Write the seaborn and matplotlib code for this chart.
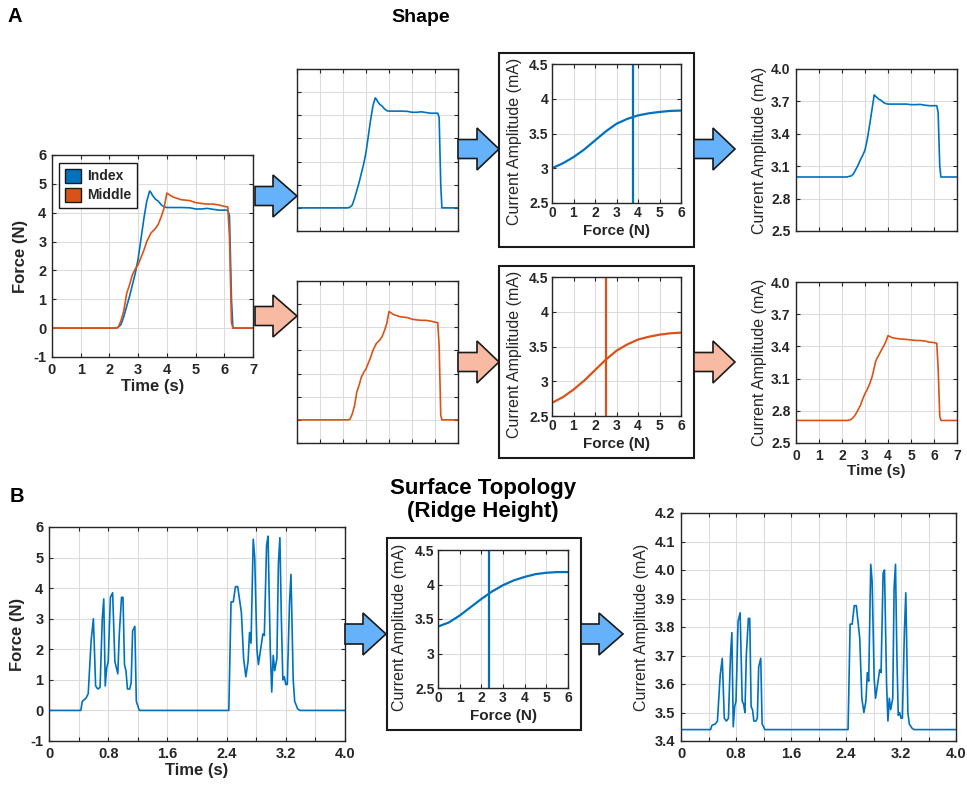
import matplotlib
matplotlib.use("Agg")
import matplotlib.pyplot as plt
from matplotlib.patches import Patch, Polygon, Rectangle
from matplotlib.ticker import FuncFormatter
import seaborn as sns

# --- data ---
# panel A: shape, force recorded on index and middle finger
t_shape = [0, 2.2, 2.3, 2.4, 2.5, 2.6, 2.7, 2.8, 2.9, 3.0, 3.1, 3.2, 3.3, 3.4, 3.45,
           3.5, 3.6, 3.7, 3.8, 3.9, 4.0, 4.2, 4.5, 4.8, 5.0, 5.2, 5.4, 5.6, 5.8, 6.0,
           6.12, 6.18, 6.25, 6.3, 7.0]
force_index = [0, 0, 0.03, 0.12, 0.4, 0.75, 1.1, 1.5, 1.9, 2.4, 3.1, 3.8, 4.4, 4.75, 4.7,
               4.6, 4.47, 4.4, 4.28, 4.2, 4.18, 4.18, 4.18, 4.17, 4.13, 4.13, 4.15, 4.12, 4.09, 4.09,
               4.09, 3.9, 1.0, 0, 0]
force_middle = [0, 0, 0.02, 0.25, 0.6, 1.2, 1.5, 1.85, 2.05, 2.2, 2.45, 2.7, 3.0, 3.2, 3.3,
                3.35, 3.45, 3.6, 3.85, 4.15, 4.68, 4.55, 4.45, 4.42, 4.35, 4.32, 4.3, 4.3, 4.27, 4.22,
                4.2, 3.2, 0.2, 0, 0]
current_index = [3.0, 3.0, 3.005, 3.01, 3.03, 3.07, 3.11, 3.16, 3.2, 3.25, 3.35, 3.48, 3.62, 3.76, 3.75,
                 3.74, 3.72, 3.71, 3.69, 3.68, 3.675, 3.675, 3.675, 3.675, 3.67, 3.67, 3.672, 3.665, 3.66, 3.66,
                 3.66, 3.6, 3.1, 3.0, 3.0]
current_middle = [2.71, 2.71, 2.712, 2.72, 2.74, 2.77, 2.81, 2.85, 2.91, 2.96, 3.0, 3.05, 3.11, 3.2, 3.25,
                  3.28, 3.32, 3.36, 3.4, 3.44, 3.5, 3.48, 3.47, 3.465, 3.46, 3.455, 3.455, 3.45, 3.44, 3.435,
                  3.43, 3.2, 2.75, 2.71, 2.71]

# force -> current transfer functions
tf_force = [0, 0.5, 1, 1.5, 2, 2.5, 3, 3.5, 4, 4.5, 5, 5.5, 6]
tf_index = [3.00, 3.07, 3.16, 3.27, 3.40, 3.53, 3.64, 3.71, 3.76, 3.79, 3.81, 3.825, 3.83]
tf_middle = [2.69, 2.77, 2.88, 3.01, 3.16, 3.31, 3.44, 3.53, 3.60, 3.64, 3.67, 3.69, 3.70]
tf_ridge = [3.39, 3.45, 3.55, 3.67, 3.79, 3.90, 3.99, 4.06, 4.11, 4.15, 4.17, 4.18, 4.18]
marker_force = {"index": 3.75, "middle": 2.5, "ridge": 2.35}

# panel B: surface topology (ridge height)
t_ridge = [0, 0.43, 0.45, 0.5, 0.53, 0.57, 0.6, 0.63, 0.66, 0.69, 0.72, 0.74,
           0.76, 0.78, 0.80, 0.83, 0.86, 0.89, 0.91, 0.93, 0.95, 0.98, 1.0, 1.02,
           1.04, 1.06, 1.09, 1.11, 1.13, 1.16, 1.18, 1.22, 2.43, 2.46, 2.49, 2.52,
           2.55, 2.60, 2.63, 2.66, 2.69, 2.71, 2.73, 2.76, 2.78, 2.81, 2.83, 2.86,
           2.89, 2.91, 2.94, 2.96, 2.99, 3.01, 3.03, 3.05, 3.08, 3.10, 3.12, 3.14,
           3.16, 3.18, 3.20, 3.22, 3.25, 3.27, 3.30, 3.32, 3.36, 3.39, 4.0]
force_ridge = [0, 0, 0.3, 0.4, 0.55, 2.3, 3.0, 0.8, 0.7, 0.75, 3.0, 3.65,
               0.8, 1.4, 1.6, 3.7, 3.85, 1.6, 1.4, 1.2, 2.5, 3.7, 3.7, 1.5,
               1.3, 0.7, 0.7, 0.9, 2.6, 2.75, 0.3, 0, 0, 3.55, 3.55, 4.05,
               4.05, 3.2, 1.7, 1.1, 1.6, 2.55, 2.2, 5.6, 5.0, 2.0, 1.5, 2.0,
               2.5, 2.45, 5.4, 5.7, 2.0, 0.6, 1.8, 1.3, 1.7, 4.8, 5.65, 3.0,
               1.0, 1.1, 0.85, 0.85, 3.5, 4.45, 1.0, 0.3, 0.05, 0, 0]
current_ridge = [3.44, 3.44, 3.455, 3.46, 3.47, 3.63, 3.69, 3.48, 3.47, 3.48, 3.70, 3.78,
                 3.45, 3.52, 3.54, 3.82, 3.85, 3.54, 3.53, 3.50, 3.70, 3.83, 3.83, 3.52,
                 3.51, 3.47, 3.47, 3.48, 3.66, 3.69, 3.46, 3.44, 3.44, 3.81, 3.81, 3.875,
                 3.875, 3.76, 3.55, 3.50, 3.54, 3.64, 3.61, 4.02, 3.96, 3.62, 3.55, 3.60,
                 3.65, 3.64, 3.99, 4.00, 3.60, 3.47, 3.55, 3.51, 3.55, 3.94, 4.02, 3.70,
                 3.49, 3.50, 3.48, 3.48, 3.79, 3.92, 3.50, 3.46, 3.445, 3.44, 3.44]

BLUE = "#0072BD"
ORANGE = "#D95319"
BLUE_ARROW = "#66b2fa"
ORANGE_ARROW = "#f8baa3"
INK = "#262626"

sns.set_theme(style="whitegrid", rc={
    "axes.edgecolor": INK, "axes.linewidth": 1.0, "grid.color": "#dcdcdc",
    "grid.linewidth": 0.8, "xtick.direction": "in", "ytick.direction": "in",
    "xtick.bottom": True, "ytick.left": True, "xtick.top": True, "ytick.right": True,
    "xtick.major.size": 3, "ytick.major.size": 3, "xtick.major.width": 0.8,
    "ytick.major.width": 0.8, "xtick.major.pad": 4, "ytick.major.pad": 4,
    "xtick.color": INK, "ytick.color": INK, "text.color": INK, "axes.labelcolor": INK,
    "axes.unicode_minus": False,
})
plt.rcParams["font.family"] = ["Liberation Sans", "DejaVu Sans"]

W, H = 967, 788
fig = plt.figure(figsize=(W / 100, H / 100), dpi=100)


def add_ax(l, t, r, b):
    return fig.add_axes([l / W, 1 - b / H, (r - l) / W, (b - t) / H])


def style_ticks(ax, size=10):
    for lab in ax.get_xticklabels() + ax.get_yticklabels():
        lab.set_fontweight("bold")
        lab.set_fontsize(size)


def trace(ax, x, y, color, lw=1.2):
    sns.lineplot(x=x, y=y, ax=ax, color=color, linewidth=lw, sort=False, estimator=None)
    ax.set_xlabel("")
    ax.set_ylabel("")


def force_axes(ax, labels=True):
    ax.set_xlim(0, 7)
    ax.set_ylim(-1, 6)
    ax.set_xticks(range(0, 8))
    ax.set_yticks(range(-1, 7))
    if not labels:
        ax.set_xticklabels([])
        ax.set_yticklabels([])


def tf_axes(ax):
    ax.set_xlim(0, 6)
    ax.set_ylim(2.5, 4.5)
    ax.set_xticks(range(0, 7))
    ax.set_yticks([2.5, 3, 3.5, 4, 4.5])
    ax.yaxis.set_major_formatter(FuncFormatter(lambda v, p: "%g" % v))
    ax.tick_params(pad=2.5)
    ax.set_xlabel("Force (N)", fontsize=11, fontweight="bold", labelpad=2.5)
    ax.set_ylabel("Current Amplitude (mA)", fontsize=11.5)
    ax.yaxis.set_label_coords(-0.235, 0.44)
    style_ticks(ax, 10)


def current_axes(ax, xlabels):
    ax.set_xlim(0, 7)
    ax.set_ylim(2.5, 4.0)
    ax.set_xticks(range(0, 8))
    ax.set_yticks([2.5, 2.8, 3.1, 3.4, 3.7, 4.0])
    ax.yaxis.set_major_formatter(FuncFormatter(lambda v, p: "%.1f" % v))
    ax.set_ylabel("Current Amplitude (mA)", fontsize=11.5, labelpad=3)
    if xlabels:
        ax.set_xlabel("Time (s)", fontsize=11, fontweight="bold", labelpad=1)
    else:
        ax.set_xticklabels([])
    style_ticks(ax, 10)


def ridge_time_axis(ax):
    ticks = [0.4 * i for i in range(11)]
    ax.set_xlim(0, 4)
    ax.set_xticks(ticks)
    labs = ["0" if i == 0 else ("%.1f" % v if i % 2 == 0 else "") for i, v in enumerate(ticks)]
    ax.set_xticklabels(labs)


# ---- panel A ----
ax = add_ax(52, 155, 253, 357)
trace(ax, t_shape, force_index, BLUE)
trace(ax, t_shape, force_middle, ORANGE)
force_axes(ax)
ax.set_xlabel("Time (s)", fontsize=12, fontweight="bold", labelpad=2)
ax.set_ylabel("Force (N)", fontsize=12, fontweight="bold", labelpad=4)
style_ticks(ax, 10.5)
handles = [Patch(facecolor=BLUE, edgecolor="#1a1a1a", label="Index"),
           Patch(facecolor=ORANGE, edgecolor="#1a1a1a", label="Middle")]
leg = ax.legend(handles=handles, loc="upper left", bbox_to_anchor=(59 / W, 1 - 163 / H),
                bbox_transform=fig.transFigure, borderaxespad=0, fancybox=False,
                framealpha=1, edgecolor="#1a1a1a", handlelength=1.2, handleheight=1.2,
                handletextpad=0.45, borderpad=0.4, labelspacing=0.3,
                prop={"weight": "bold", "size": 10})
leg.get_frame().set_linewidth(1.0)

ax = add_ax(297, 69, 458, 231)
trace(ax, t_shape, force_index, BLUE)
force_axes(ax, labels=False)

ax = add_ax(297, 281, 458, 443)
trace(ax, t_shape, force_middle, ORANGE)
force_axes(ax, labels=False)

ax = add_ax(552, 64, 681, 203)
trace(ax, tf_force, tf_index, BLUE, lw=1.6)
ax.axvline(marker_force["index"], color=BLUE, lw=1.6)
tf_axes(ax)

ax = add_ax(552, 277, 681, 416)
trace(ax, tf_force, tf_middle, ORANGE, lw=1.6)
ax.axvline(marker_force["middle"], color=ORANGE, lw=1.6)
tf_axes(ax)

ax = add_ax(796, 69, 957, 231)
trace(ax, t_shape, current_index, BLUE)
current_axes(ax, xlabels=False)

ax = add_ax(796, 282, 957, 443)
trace(ax, t_shape, current_middle, ORANGE)
current_axes(ax, xlabels=True)

# ---- panel B ----
ax = add_ax(49, 527, 345, 741)
trace(ax, t_ridge, force_ridge, BLUE)
ridge_time_axis(ax)
ax.set_ylim(-1, 6)
ax.set_yticks(range(-1, 7))
ax.set_xlabel("Time (s)", fontsize=12, fontweight="bold", labelpad=2)
ax.set_ylabel("Force (N)", fontsize=12, fontweight="bold", labelpad=4)
style_ticks(ax, 10.5)

ax = add_ax(438, 550, 568, 688)
trace(ax, tf_force, tf_ridge, BLUE, lw=1.6)
ax.axvline(marker_force["ridge"], color=BLUE, lw=1.6)
tf_axes(ax)

ax = add_ax(681, 513, 956, 741)
trace(ax, t_ridge, current_ridge, BLUE)
ridge_time_axis(ax)
ax.set_ylim(3.4, 4.2)
ax.set_yticks([3.4 + 0.1 * i for i in range(9)])
ax.yaxis.set_major_formatter(FuncFormatter(lambda v, p: "%.1f" % v))
ax.set_ylabel("Current Amplitude (mA)", fontsize=11.5, labelpad=4)
style_ticks(ax, 10.5)

# ---- decoration: boxes, arrows, titles ----
deco = fig.add_axes([0, 0, 1, 1], zorder=10)
deco.set_xlim(0, W)
deco.set_ylim(H, 0)
deco.axis("off")
deco.patch.set_alpha(0)

for l, t, r, b in [(499, 53, 694, 247), (499, 266, 694, 458), (387, 538, 581, 730)]:
    deco.add_patch(Rectangle((l, t), r - l, b - t, fill=False, edgecolor="#1a1a1a", lw=1.5))


def arrow(x0, xh, xt, yc, color, bh=9.5, hh=21):
    pts = [(x0, yc - bh), (xh, yc - bh), (xh, yc - hh), (xt, yc),
           (xh, yc + hh), (xh, yc + bh), (x0, yc + bh)]
    deco.add_patch(Polygon(pts, closed=True, facecolor=color, edgecolor="#1a1a1a", lw=1.2))


arrow(255, 273, 297, 196, BLUE_ARROW)
arrow(255, 273, 297, 316, ORANGE_ARROW)
arrow(458, 477, 499, 149, BLUE_ARROW)
arrow(694, 713, 735, 149, BLUE_ARROW)
arrow(458, 477, 499, 362, ORANGE_ARROW)
arrow(694, 713, 735, 362, ORANGE_ARROW)
arrow(345, 363, 386, 634, BLUE_ARROW, bh=10)
arrow(581, 599, 623, 634, BLUE_ARROW, bh=10)

fig.text(8 / W, 1 - 17 / H, "A", fontsize=14.5, fontweight="bold", color="black", va="center")
fig.text(421 / W, 1 - 18 / H, "Shape", fontsize=14, fontweight="bold", color="black",
         ha="center", va="center")
fig.text(10 / W, 1 - 497 / H, "B", fontsize=14.5, fontweight="bold", color="black", va="center")
fig.text(483 / W, 1 - 500 / H, "Surface Topology\n(Ridge Height)", fontsize=16,
         fontweight="bold", color="black", ha="center", va="center", linespacing=1.15)

fig.savefig("out.png", dpi=100)
